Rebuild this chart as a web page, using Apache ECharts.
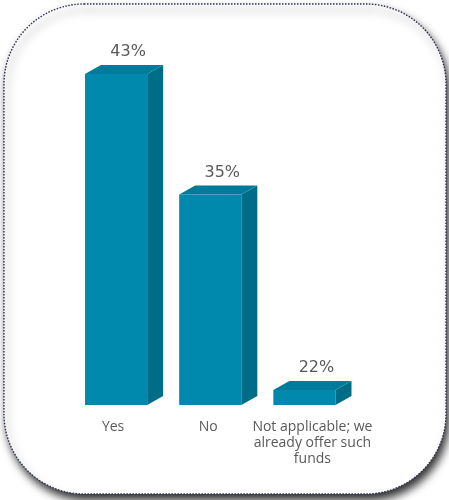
<!DOCTYPE html>
<html>
<head>
<meta charset="utf-8">
<script src="https://cdn.jsdelivr.net/npm/echarts@6/dist/echarts.min.js"></script>
<style>
  html, body { margin: 0; padding: 0; background: #ffffff; }
  #chart { width: 449px; height: 500px; }
</style>
</head>
<body>
<div id="chart"></div>
<script>
// Survey answers and their shares (%)
const categories = ['Yes', 'No', 'Not applicable; we\nalready offer such\nfunds'];
const values = [43, 35, 22];
const valueLabels = ['43%', '35%', '22%'];

// Value axis range of the 3D column plot
const axisMin = 21;
const axisMax = 45;

// Layout tweaks for the 3D boxes and text
const depthX = 16, depthY = 9;
const catLabelShift = [-3, -2, 8];
const colors = { front: '#0089AD', side: '#006D88', top: '#007B9B' };
const textColor = '#595959';

const chart = echarts.init(document.getElementById('chart'), null, { renderer: 'canvas' });

function renderBox(params, api) {
  const idx = api.value(0);
  const val = api.value(1);
  const topPt = api.coord([idx, val]);
  const basePt = api.coord([idx, axisMin]);
  const band = api.size([1, 0])[0];
  const w = band * 0.66;
  const x0 = topPt[0] - w / 2, x1 = x0 + w;
  const yT = topPt[1], yB = basePt[1];
  return {
    type: 'group',
    children: [
      { type: 'rect', shape: { x: x0, y: yT, width: w, height: yB - yT },
        style: { fill: colors.front } },
      { type: 'polygon', shape: { points: [[x1, yT], [x1 + depthX, yT - depthY], [x1 + depthX, yB - depthY], [x1, yB]] },
        style: { fill: colors.side } },
      { type: 'polygon', shape: { points: [[x0, yT], [x1, yT], [x1 + depthX, yT - depthY], [x0 + depthX, yT - depthY]] },
        style: { fill: colors.top } },
      { type: 'text', style: { text: valueLabels[idx], x: topPt[0] + 12, y: yT - 22,
        align: 'center', verticalAlign: 'middle', fill: textColor,
        font: '16px "DejaVu Sans"' } },
      { type: 'text', style: { text: categories[idx], x: topPt[0] + catLabelShift[idx], y: yB + 14,
        align: 'center', verticalAlign: 'top', lineHeight: 16, fill: textColor,
        font: '14px "Open Sans"' } }
    ]
  };
}

chart.setOption({
  animation: false,
  backgroundColor: '#ffffff',
  graphic: [
    {
      type: 'rect',
      z: -10,
      shape: { x: 4, y: 4, width: 442, height: 490, r: 80 },
      style: {
        fill: '#ffffff',
        stroke: '#2b3550',
        lineWidth: 1.4,
        lineDash: [1.5, 1.5],
        shadowBlur: 8,
        shadowOffsetX: 3,
        shadowOffsetY: 6,
        shadowColor: 'rgba(0,0,0,0.8)'
      }
    }
  ],
  grid: { left: 69, right: 97.5, top: 44, bottom: 95 },
  xAxis: {
    type: 'category',
    data: categories,
    show: false
  },
  yAxis: {
    type: 'value',
    min: axisMin,
    max: axisMax,
    show: false
  },
  series: [{
    type: 'custom',
    renderItem: renderBox,
    encode: { x: 0, y: 1 },
    data: values.map((v, i) => [i, v]),
    z: 5
  }]
});
</script>
</body>
</html>
